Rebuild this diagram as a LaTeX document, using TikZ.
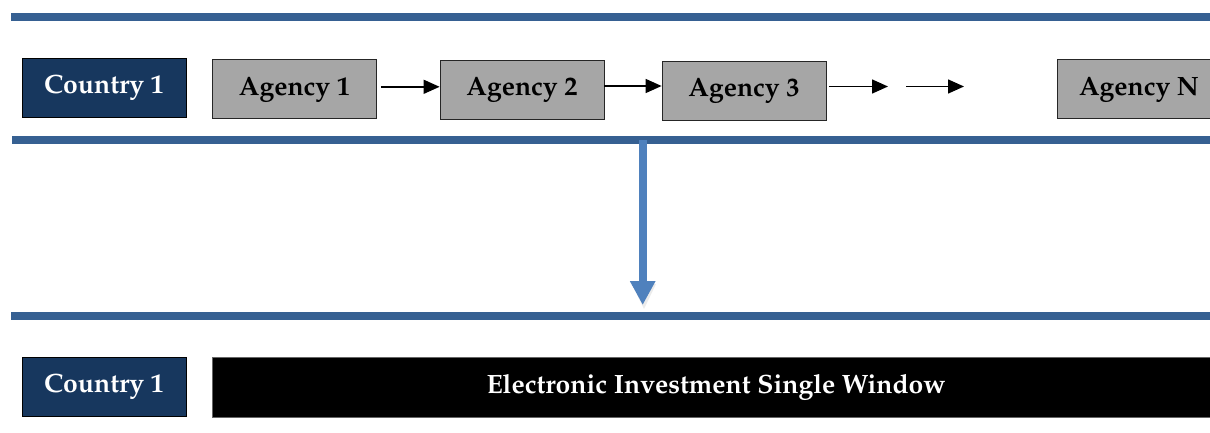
\documentclass[tikz,border=0pt]{standalone}
\usepackage[T1]{fontenc}
\usepackage{mathpazo}
\usetikzlibrary{arrows.meta}
\definecolor{barblue}{RGB}{54,96,146}
\definecolor{navy}{RGB}{23,55,94}
\definecolor{agencygray}{RGB}{166,166,166}
\definecolor{flowblue}{RGB}{79,129,189}
\tikzset{
  lbl/.style={font=\fontsize{26.5}{30}\selectfont\bfseries},
  countrybox/.style={lbl, draw=black, line width=0.8pt, fill=navy, text=white,
    minimum width=164pt, minimum height=59pt, inner sep=0pt},
  agencybox/.style={lbl, draw=black!85, line width=0.8pt, fill=agencygray, text=black,
    minimum width=164pt, minimum height=59pt, inner sep=0pt},
  windowbox/.style={lbl, draw=black!60, line width=0.8pt, fill=black, text=white,
    minimum width=1008pt, minimum height=60pt, inner sep=0pt},
  bar/.style={barblue, line width=8pt},
  flow/.style={line width=1.5pt, -{Triangle[length=16pt,width=14pt]}},
  bigflow/.style={flowblue, line width=8pt, -{Triangle[length=24pt,width=24pt]}}
}
\begin{document}
\begin{tikzpicture}[x=1pt,y=-1pt]
\useasboundingbox (0,0) rectangle (1210,433);
\clip (0,0) rectangle (1210,433);

% horizontal separators
\coordinate (b1l) at (11,17.3);  \coordinate (b1r) at (1210,17.3);
\coordinate (b2l) at (12,140);   \coordinate (b2r) at (1210,140);
\coordinate (b3l) at (11,316.3); \coordinate (b3r) at (1210,316.3);
\draw[bar] (b1l) -- (b1r);
\draw[bar] (b2l) -- (b2r);
\draw[bar] (b3l) -- (b3r);

% current process: agencies one after another
\node[countrybox] (c1) at (104,87.7) {Country 1};
\node[agencybox] (a1) at (294.5,89.3) {Agency 1};
\node[agencybox] (a2) at (522,89.5) {Agency 2};
\node[agencybox] (a3) at (744,90.5) {Agency 3};
\node[agencybox] (an) at (1139,89.3) {Agency N};

\coordinate (g1) at (888,86.5);
\coordinate (g2) at (906,86.5);
\coordinate (g3) at (964,86.5);

\draw[flow] ([yshift=2.5pt,xshift=4pt]a1.east) -- ([yshift=2.5pt]a1.east -| a2.west);
\draw[flow] ([yshift=3.5pt]a2.east) -- ([yshift=3.5pt]a2.east -| a3.west);
\draw[flow] ([xshift=3pt]a3.east |- g1) -- (g1);
\draw[flow] (g2) -- (g3);

% transition to the single window
\coordinate (dtop) at (642.7,140);
\coordinate (dbot) at (642.7,305);
\fill[black, opacity=0.08] (632,284) -- (656,284) -- (644,309) -- cycle;
\draw[bigflow] (dtop) -- (dbot);

% single window
\node[countrybox] (c2) at (104,386.5) {Country 1};
\node[windowbox] (sw) at (716,387.3) {Electronic Investment Single Window};
\end{tikzpicture}
\end{document}
